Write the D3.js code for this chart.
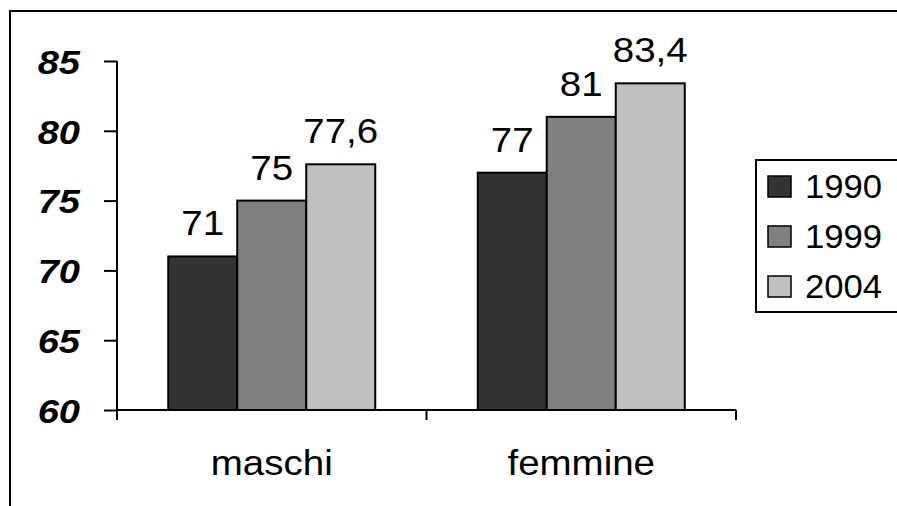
<!DOCTYPE html>
<html><head><meta charset="utf-8">
<script src="https://cdn.jsdelivr.net/npm/d3@7"></script>
<style>body{margin:0;background:#fff}svg{display:block}text{font-family:"Liberation Sans",Arial,sans-serif}</style>
</head><body><svg id="c" width="897" height="506"></svg>
<script>
const categories = ["maschi", "femmine"];
const years = ["1990", "1999", "2004"];
const values1990 = [71, 77];
const values1999 = [75, 81];
const values2004 = [77.6, 83.4];
const yTicks = [60, 65, 70, 75, 80, 85];
const colors = ["#333333", "#808080", "#c0c0c0"];

const series = [values1990, values1999, values2004];
const svg = d3.select("#c");
const pL = 117, pR = 736, pT = 61, pB = 410;

// outer frame
svg.append("rect").attr("x", 10).attr("y", 11).attr("width", 1000).attr("height", 1000)
  .attr("fill", "none").attr("stroke", "#000").attr("stroke-width", 2);

const x0 = d3.scaleBand().domain(categories).range([pL, pR]);
const groupW = 207;
const x1 = d3.scaleBand().domain(years).range([(x0.bandwidth() - groupW) / 2, (x0.bandwidth() + groupW) / 2]);
const y = d3.scaleLinear().domain([60, 85]).range([pB, pT]);

const fmt = v => String(v).replace(".", ",");
const sx = (cx, k) => `translate(${cx},0) scale(${k},1) translate(${-cx},0)`;

categories.forEach((cat, ci) => {
  const g = svg.append("g").attr("transform", `translate(${x0(cat)},0)`);
  years.forEach((yr, si) => {
    const v = series[si][ci];
    const cx = x1(yr) + x1.bandwidth() / 2;
    g.append("rect").attr("x", x1(yr)).attr("y", y(v))
      .attr("width", x1.bandwidth()).attr("height", y(60) - y(v))
      .attr("fill", colors[si]).attr("stroke", "#000").attr("stroke-width", 2);
    g.append("text").attr("x", cx).attr("y", y(v) - 21)
      .attr("text-anchor", "middle").attr("font-size", 35)
      .attr("transform", sx(cx, 1.1))
      .text(fmt(v));
  });
});

// y axis
const yAxis = d3.axisLeft(y).tickValues(yTicks).tickSize(13).tickFormat(d => d);
const ya = svg.append("g").attr("transform", `translate(${pL},0)`).call(yAxis);
ya.select(".domain").remove();
ya.selectAll(".tick line").attr("stroke", "#000").attr("stroke-width", 2);
ya.selectAll(".tick text").attr("font-size", 34).attr("font-weight", "bold").attr("font-style", "italic")
  .attr("font-family", '"Liberation Sans",Arial,sans-serif').attr("fill", "#000").attr("x", -37).attr("dy", "0.36em")
  .attr("transform", sx(-37, 1.12));
svg.append("line").attr("x1", pL).attr("x2", pL).attr("y1", pT).attr("y2", pB + 10)
  .attr("stroke", "#000").attr("stroke-width", 2);

// x axis
svg.append("line").attr("x1", pL).attr("x2", pR).attr("y1", pB).attr("y2", pB)
  .attr("stroke", "#000").attr("stroke-width", 2);
const xt = [pL, ...categories.map(c => x0(c) + x0.bandwidth())];
svg.selectAll(".xt").data(xt).enter().append("line")
  .attr("x1", d => d).attr("x2", d => d).attr("y1", pB).attr("y2", pB + 10)
  .attr("stroke", "#000").attr("stroke-width", 2);
svg.selectAll(".xl").data(categories).enter().append("text")
  .attr("x", d => x0(d) + x0.bandwidth() / 2).attr("y", 475)
  .attr("text-anchor", "middle").attr("font-size", 35)
  .attr("transform", d => sx(x0(d) + x0.bandwidth() / 2, 1.1))
  .text(d => d);

// legend
svg.append("rect").attr("x", 756).attr("y", 160).attr("width", 300).attr("height", 152)
  .attr("fill", "#fff").attr("stroke", "#000").attr("stroke-width", 2);
years.forEach((yr, i) => {
  const cy = 186 + i * 50;
  svg.append("rect").attr("x", 768).attr("y", cy - 10).attr("width", 23).attr("height", 21)
    .attr("fill", colors[i]).attr("stroke", "#000").attr("stroke-width", 1.5);
  svg.append("text").attr("x", 805).attr("y", cy + 12).attr("font-size", 33)
    .attr("transform", sx(805, 1.05)).text(yr);
});
</script></body></html>
